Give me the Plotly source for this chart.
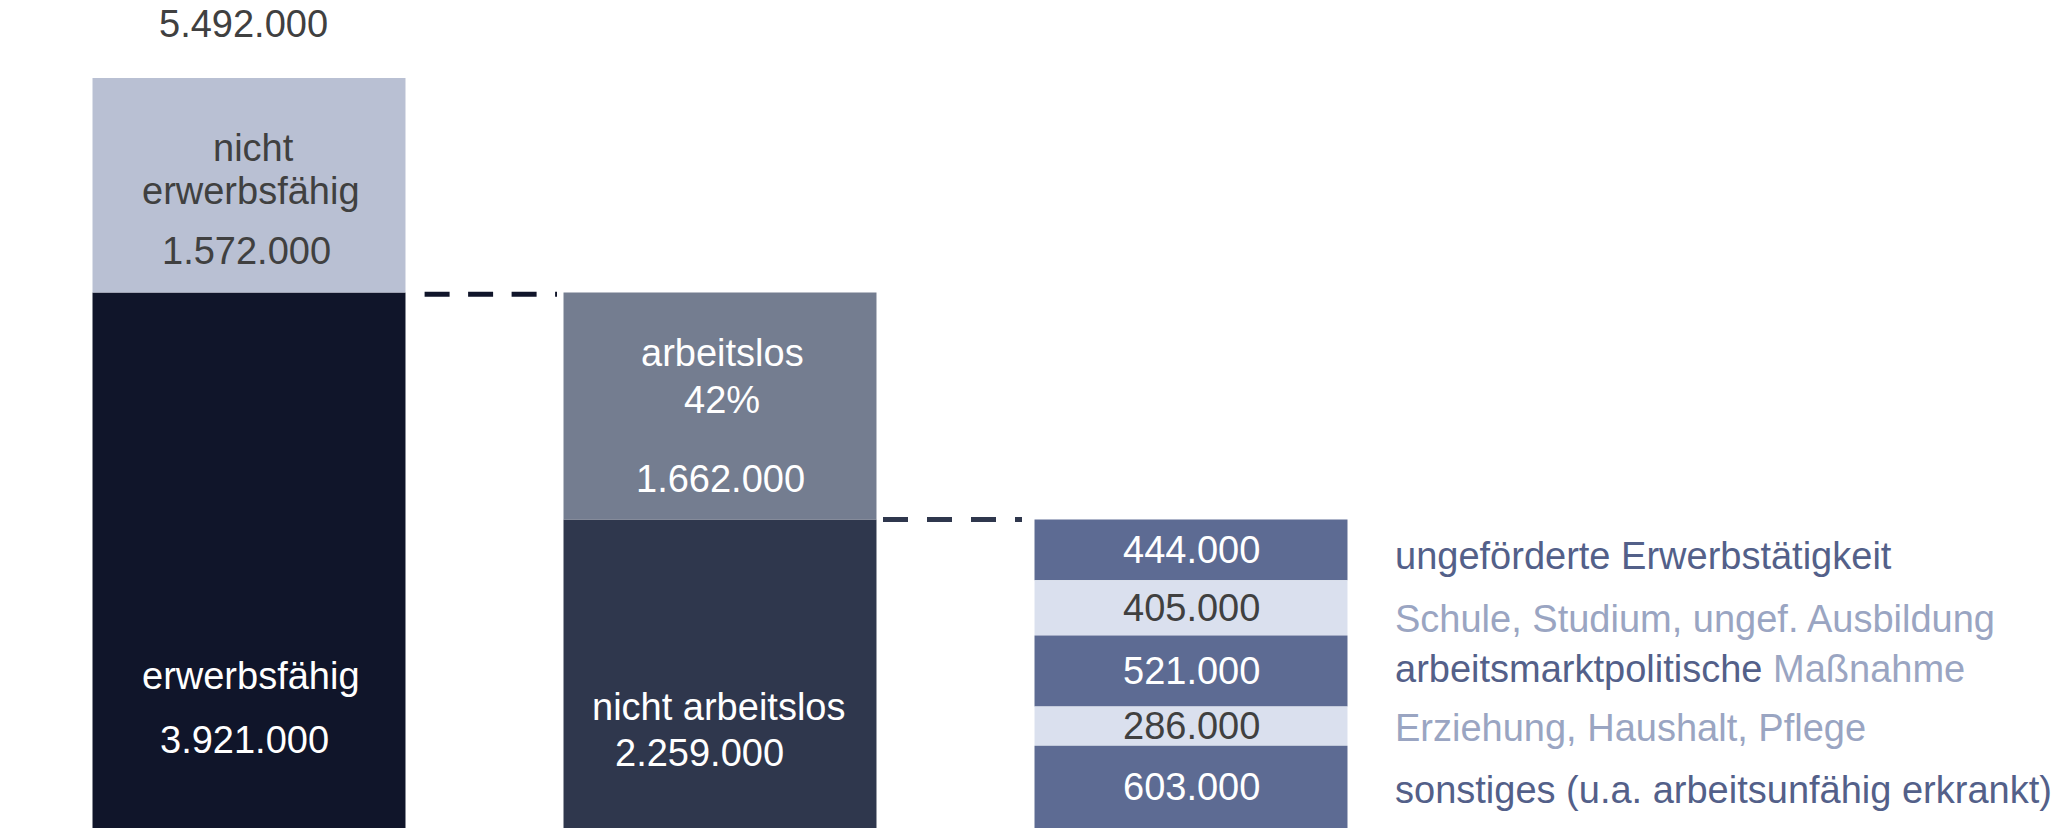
import plotly.graph_objects as go

# ---------------- data ----------------
stufen = ["Leistungsberechtigte", "Erwerbsfähige", "Nicht Arbeitslose"]
gesamt = 5492000
erwerbsfaehig = 3921000
nicht_erwerbsfaehig = 1572000
arbeitslos = 1662000
nicht_arbeitslos = 2259000
anteil_arbeitslos = "42%"
status_labels = [
    "ungeförderte Erwerbstätigkeit",
    "Schule, Studium, ungef. Ausbildung",
    "arbeitsmarktpolitische Maßnahme",
    "Erziehung, Haushalt, Pflege",
    "sonstiges (u.a. arbeitsunfähig erkrankt)",
]
status_values = [444000, 405000, 521000, 286000, 603000]

# ---------------- style ----------------
FONT = "Liberation Sans, Arial, sans-serif"
FS = 38
C_NE = "#b9c0d3"
C_E = "#10152a"
C_AL = "#747d90"
C_NAL = "#2f374d"
C_S_DARK = "#5d6b93"
C_S_LIGHT = "#dae0ee"
T_DARK = "#404040"
T_BLUE = "#536089"
T_LIGHT = "#9aa5c2"
W = 2065
H = 829
OFF = 8            # page body margin offset
PX_PER_M = 136.56  # pixels per million
ZERO_PX = 828      # page y of value 0
BW = 0.6645

def fmt(v):
    return f"{v:,}".replace(",", ".")

fig = go.Figure()

# bar 1
fig.add_bar(x=[0], y=[erwerbsfaehig], base=[0], width=BW, marker_color=C_E, marker_line_width=0)
fig.add_bar(x=[0], y=[nicht_erwerbsfaehig], base=[erwerbsfaehig], width=BW, marker_color=C_NE, marker_line_width=0)
# bar 2
fig.add_bar(x=[1], y=[nicht_arbeitslos], base=[0], width=BW, marker_color=C_NAL, marker_line_width=0)
fig.add_bar(x=[1], y=[arbeitslos], base=[nicht_arbeitslos], width=BW, marker_color=C_AL, marker_line_width=0)
# bar 3 (stacked from top down)
top = nicht_arbeitslos
seg_centers = []
for i, v in enumerate(status_values):
    b = top - v
    fig.add_bar(x=[2], y=[v], base=[b], width=BW,
                marker_color=C_S_DARK if i % 2 == 0 else C_S_LIGHT, marker_line_width=0)
    seg_centers.append(b + v / 2)
    top = b

# page pixel -> axis units
def u(px):
    return (px - 249) / 471.0

def yv(px):
    return (ZERO_PX - px) / PX_PER_M * 1e6

# dashed connectors
fig.add_scatter(x=[u(424.6), u(557)], y=[erwerbsfaehig - 12000] * 2, mode="lines",
                line=dict(color=C_E, width=5, dash="25px,18.5px"), hoverinfo="skip")
fig.add_scatter(x=[u(883), u(1022)], y=[nicht_arbeitslos] * 2, mode="lines",
                line=dict(color=C_NAL, width=5, dash="25px,19px"), hoverinfo="skip")

ann = []
def A(x, y, text, color, xanchor="center", size=FS):
    ann.append(dict(x=x, y=y, xref="x", yref="y", text=text, showarrow=False,
                    xanchor=xanchor, yanchor="middle",
                    font=dict(family=FONT, size=size, color=color)))

# bar 1 texts
A(u(243.5), yv(23.5), fmt(gesamt), T_DARK)
A(u(253), yv(148), "nicht", T_DARK)
A(u(251), yv(191), "erwerbsfähig", T_DARK)
A(u(246), yv(251), fmt(nicht_erwerbsfaehig), T_DARK)
A(u(251), yv(676), "erwerbsfähig", "white")
A(u(244), yv(740), fmt(erwerbsfaehig), "white")
# bar 2 texts
A(u(722), yv(353), "arbeitslos", "white")
A(u(722), yv(400), anteil_arbeitslos, "white")
A(u(720), yv(479), fmt(arbeitslos), "white")
A(u(718), yv(707), "nicht arbeitslos", "white")
A(u(699), yv(753), fmt(nicht_arbeitslos), "white")
# bar 3 texts
for i, (v, c) in enumerate(zip(status_values, seg_centers)):
    A(2, c, fmt(v), "white" if i % 2 == 0 else T_DARK)

label_px = [556, 619, 669, 728, 790]
label_html = [
    f"<span style='color:{T_BLUE}'>{status_labels[0]}</span>",
    f"<span style='color:{T_LIGHT}'>{status_labels[1]}</span>",
    f"<span style='color:{T_BLUE}'>arbeitsmarktpolitische</span> <span style='color:{T_LIGHT}'>Maßnahme</span>",
    f"<span style='color:{T_LIGHT}'>{status_labels[3]}</span>",
    f"<span style='color:{T_BLUE}'>{status_labels[4]}</span>",
]
for py, t in zip(label_px, label_html):
    A(u(1393), yv(py), t, T_BLUE, xanchor="left")

fig.update_layout(
    width=W, height=H,
    margin=dict(l=0, r=0, t=0, b=0),
    paper_bgcolor="white", plot_bgcolor="white",
    showlegend=False, barmode="overlay",
    xaxis=dict(range=[u(OFF), u(W + OFF)], visible=False, fixedrange=True),
    yaxis=dict(range=[yv(H + OFF), yv(OFF)], visible=False, fixedrange=True),
    annotations=ann,
)
fig.write_html("out.html")
